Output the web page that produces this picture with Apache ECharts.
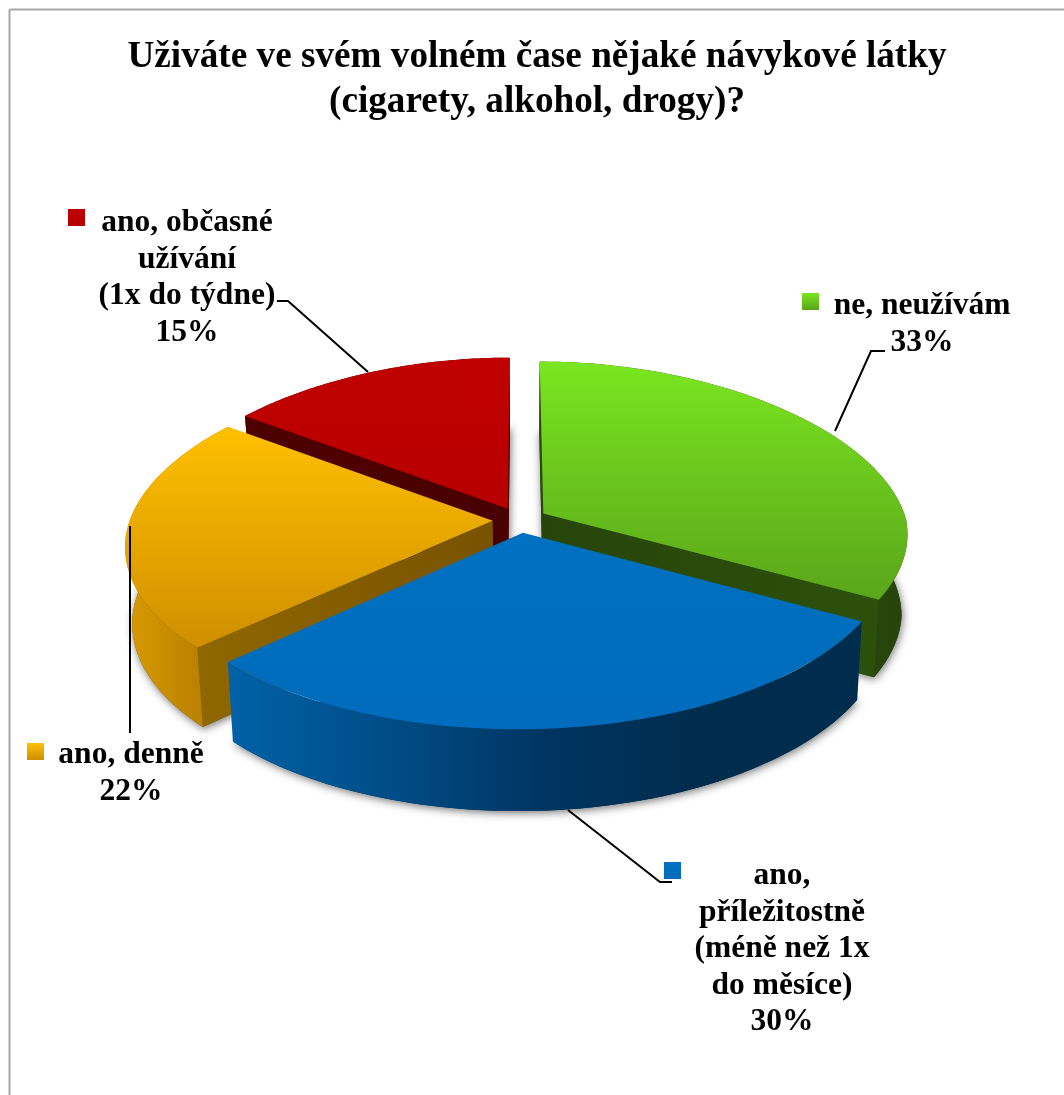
<!DOCTYPE html>
<html>
<head>
<meta charset="utf-8">
<title>Návykové látky</title>
<script src="https://cdn.jsdelivr.net/npm/echarts@6/dist/echarts.min.js"></script>
<style>
  html, body { margin: 0; padding: 0; background: #fff; }
  #chart { width: 1064px; height: 1095px; }
</style>
</head>
<body>
<div id="chart"></div>
<script>
// data
const titleLines = ['Uživáte ve svém volném čase nějaké návykové látky', '(cigarety, alkohol, drogy)?']
const categories = [
  ['ne, neužívám'],
  ['ano,', 'příležitostně', '(méně než 1x', 'do měsíce)'],
  ['ano, denně'],
  ['ano, občasné', 'užívání', '(1x do týdne)']
]
const percents = [33, 30, 22, 15]

// look of each slice: [top gradient], outer wall gradient stops, cut wall gradient, draw order
const looks = [
  { top: ['#7ae620', '#5aa51a'], wall: ['#2a4d0b', '#27450a'], cut: ['#2c500c', '#27450a'], order: 2 },
  { top: ['#0070c0', '#006cbb'], wall: ['#0062a8', '#004d87', '#003562', '#002c4d', '#002c4d'], cut: ['#003562', '#002c4d'], order: 4 },
  { top: ['#ffc000', '#cf8f00'], wall: ['#d99a00', '#ad7600'], cut: ['#8f6700', '#785200'], order: 3 },
  { top: ['#c00000', '#b80000'], wall: ['#4d0000', '#4d0000'], cut: ['#520000', '#480000'], order: 1 }
]

// label placement: marker box, text centre x, first line y, leader line
const labelBoxes = [
  { marker: [802, 293], cx: 922, y: 306, leader: [[835, 431], [871, 351], [885, 351]] },
  { marker: [664, 862], cx: 782, y: 876, leader: [[568, 810], [660, 882], [672, 882]] },
  { marker: [27, 743], cx: 131, y: 755, leader: [[130, 526], [130, 733]] },
  { marker: [68, 209], cx: 187, y: 223, leader: [[277, 301], [288, 301], [368, 372]] }
]

// tilted pie: width follows a linear narrowing (plus a small lean in front),
// height a perspective divide, that is what fits the reference best
const view = {
  cx: 520, cy: 520,
  width: 363, narrowFront: 0.15, narrowBack: 0.175, lean: -7,
  focalY: 2810, distY: 7.7,
  sinE: 0.468, cosE: 0.884,
  height: 0.235, explode: 0.075
}

const project = (x, y, z) => {
  const toward = y * view.cosE + z * view.sinE
  const narrow = toward > 0 ? view.narrowFront : view.narrowBack
  return [
    view.cx + view.lean * Math.max(0, toward) + view.width * x * (1 + narrow * toward),
    view.cy + view.focalY * (y * view.sinE - z * view.cosE) / (view.distY - toward)
  ]
}

const vGrad = (c) => ({
  type: 'linear', x: 0, y: 0, x2: 0, y2: 1,
  colorStops: c.map((color, i) => ({ offset: i / (c.length - 1), color }))
})
const hGrad = (c) => ({
  type: 'linear', x: 0, y: 0, x2: 1, y2: 0,
  colorStops: c.map((color, i) => ({ offset: i / (c.length - 1), color }))
})

const area = (pts) => {
  let s = 0
  pts.forEach((p, i) => {
    const q = pts[(i + 1) % pts.length]
    s += p[0] * q[1] - q[0] * p[1]
  })
  return s
}

const total = percents.reduce((a, b) => a + b, 0)

const renderSlice = (params, api) => {
  const i = params.dataIndex
  const look = looks[i]
  let before = 0
  for (let k = 0; k < i; k++) before += percents[k]
  const a0 = before / total * Math.PI * 2
  const a1 = (before + api.value(0)) / total * Math.PI * 2
  const mid = (a0 + a1) / 2
  const ox = Math.sin(mid) * view.explode
  const oy = -Math.cos(mid) * view.explode
  const at = (a, r, z) => project(ox + r * Math.sin(a), oy - r * Math.cos(a), z)

  const steps = 72
  const arc = (z) => {
    const pts = []
    for (let s = 0; s <= steps; s++) pts.push(at(a0 + (a1 - a0) * s / steps, 1, z))
    return pts
  }
  const h = -view.height
  const topArc = arc(0)
  const botArc = arc(h)
  const base = look.order * 10
  const children = []

  // bottom face carries the soft drop shadow
  children.push({
    type: 'polygon', z2: base,
    shape: { points: [at(0, 0, h)].concat(botArc) },
    style: { fill: look.cut[1], shadowBlur: 8, shadowColor: 'rgba(0,0,0,0.55)', shadowOffsetX: 1, shadowOffsetY: 2 }
  })
  // radial cuts, only the ones facing the viewer
  const cutA = [at(0, 0, 0), at(a0, 1, 0), at(a0, 1, h), at(0, 0, h)]
  const cutB = [at(0, 0, 0), at(a1, 1, 0), at(a1, 1, h), at(0, 0, h)]
  if (area(cutA) < 0) children.push({ type: 'polygon', z2: base + 1, shape: { points: cutA }, style: { fill: hGrad(look.cut) } })
  if (area(cutB) > 0) children.push({ type: 'polygon', z2: base + 1, shape: { points: cutB }, style: { fill: hGrad(look.cut.slice().reverse()) } })
  // outer wall
  children.push({
    type: 'polygon', z2: base + 2,
    shape: { points: topArc.concat(botArc.slice().reverse()) },
    style: { fill: hGrad(look.wall) }
  })
  // top face
  children.push({
    type: 'polygon', z2: base + 3,
    shape: { points: [at(0, 0, 0)].concat(topArc) },
    style: { fill: vGrad(look.top) }
  })
  return { type: 'group', children }
}

// frame, leader lines, markers and texts
const font = '"Liberation Serif", "Times New Roman", serif'
const graphics = [
  { type: 'line', shape: { x1: 9.5, y1: 9.5, x2: 1064, y2: 9.5 }, style: { stroke: '#a6a6a6', lineWidth: 2 } },
  { type: 'line', shape: { x1: 9.5, y1: 9.5, x2: 9.5, y2: 1095 }, style: { stroke: '#a6a6a6', lineWidth: 2 } }
]
categories.forEach((lines, i) => {
  const box = labelBoxes[i]
  graphics.push({
    type: 'polyline', z: 5, shape: { points: box.leader },
    style: { stroke: '#000', lineWidth: 2, fill: null }
  })
  graphics.push({
    type: 'rect', z: 6, shape: { x: box.marker[0], y: box.marker[1], width: 17, height: 17 },
    style: { fill: vGrad(looks[i].top) }
  })
  lines.concat(percents[i] + '%').forEach((text, n) => {
    graphics.push({
      type: 'text', z: 6, x: box.cx, y: box.y + n * 36.5,
      style: { text, font: 'bold 31.5px ' + font, fill: '#000', textAlign: 'center', textVerticalAlign: 'middle' }
    })
  })
})

const chart = echarts.init(document.getElementById('chart'))
chart.setOption({
  animation: false,
  backgroundColor: '#fff',
  title: {
    text: titleLines.join('\n'),
    left: 532,
    top: 30,
    textAlign: 'center',
    textStyle: { fontFamily: font, fontWeight: 'bold', fontSize: 37.2, lineHeight: 45, color: '#000' }
  },
  graphic: graphics,
  series: [{
    type: 'custom',
    coordinateSystem: 'none',
    renderItem: renderSlice,
    data: percents.map((v) => [v])
  }]
})
</script>
</body>
</html>
